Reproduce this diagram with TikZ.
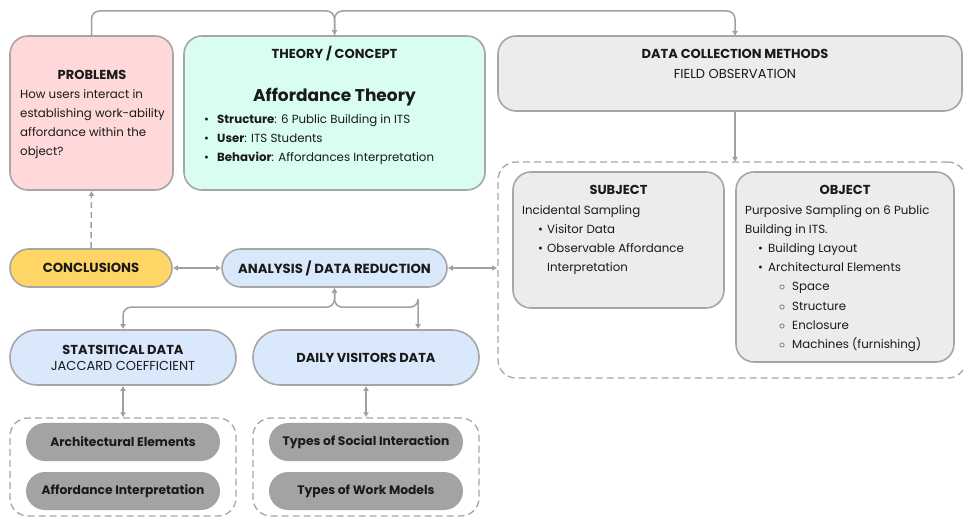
\documentclass[tikz,border=0pt]{standalone}
\usepackage{fontspec}
\setmainfont{Poppins}
\usetikzlibrary{arrows.meta,calc}
\definecolor{lineg}{HTML}{A6A6A6}
\definecolor{arrg}{HTML}{A0A0A0}
\definecolor{pinkf}{HTML}{FFD9D9}
\definecolor{cyanf}{HTML}{D9FCF3}
\definecolor{grayf}{HTML}{ECECEC}
\definecolor{yellf}{HTML}{FFD666}
\definecolor{bluef}{HTML}{DAE8FC}
\definecolor{pillf}{HTML}{A3A3A3}
\definecolor{txt}{HTML}{1A1A1A}
\tikzset{
  box/.style={draw=lineg, line width=1.6pt, rounded corners=18pt, inner sep=0pt},
  pill/.style={box, rounded corners=19pt, font=\fontsize{13.2}{15}\selectfont\bfseries},
  dbox/.style={draw=lineg, line width=1.3pt, dash pattern=on 7pt off 4pt, rounded corners=18pt, inner sep=0pt},
  gpill/.style={fill=pillf, rounded corners=19pt, minimum width=194, minimum height=38, font=\fontsize{12.3}{14}\selectfont\bfseries},
  arr/.style={draw=arrg, line width=1.5pt, -{Latex[length=5pt,width=6pt]}},
  darr/.style={draw=arrg, line width=1.5pt, {Latex[length=5pt,width=6pt]}-{Latex[length=5pt,width=6pt]}},
  ttl/.style={font=\fontsize{13}{15}\selectfont\bfseries, inner sep=0pt},
  body/.style={font=\fontsize{11.8}{19.2}\selectfont, align=left, inner sep=0pt, anchor=north west},
}
\begin{document}
\begin{tikzpicture}[x=1pt,y=-1pt, text=txt]
\useasboundingbox (0,0) rectangle (964,518);
% boxes
\node[box, fill=pinkf, minimum width=163, minimum height=154] (prob) at (91.5,113) {};
\node[box, fill=cyanf, minimum width=301, minimum height=154] (theory) at (334.5,113) {};
\node[box, fill=grayf, minimum width=464, minimum height=75] (dc) at (730,73.5) {};
\node[dbox, minimum width=468, minimum height=216] (big) at (732,270) {};
\node[box, fill=grayf, minimum width=211, minimum height=136] (subj) at (618.5,240) {};
\node[box, fill=grayf, minimum width=218, minimum height=190] (obj) at (845,267) {};
\node[pill, fill=yellf, minimum width=162, minimum height=38] (concl) at (91,268) {CONCLUSIONS};
\node[pill, fill=bluef, minimum width=225, minimum height=38] (anal) at (334.5,268) {ANALYSIS / DATA REDUCTION};
\node[box, fill=bluef, rounded corners=27pt, minimum width=226, minimum height=55, align=center, font=\fontsize{13}{16}\selectfont] (stat) at (123,357.5) {\textbf{STATSITICAL DATA}\\JACCARD COEFFICIENT};
\node[box, fill=bluef, rounded corners=27pt, minimum width=226, minimum height=55, font=\fontsize{13}{16}\selectfont\bfseries] (daily) at (366,357.5) {DAILY VISITORS DATA};
\node[dbox, minimum width=226, minimum height=98] (d1) at (123,467) {};
\node[dbox, minimum width=226, minimum height=98] (d2) at (366,467) {};
\node[gpill] (p1) at (123,442) {Architectural Elements};
\node[gpill] (p2) at (123,491) {Affordance Interpretation};
\node[gpill] (p3) at (366,442) {Types of Social Interaction};
\node[gpill] (p4) at (366,491) {Types of Work Models};
% texts
\node[ttl] (probt) at (92,75) {PROBLEMS};
\node[body] (probb) at (20,89) {How users interact in\\establishing work-ability\\affordance within the\\object?};
\node[ttl] (theot) at (334.5,54) {THEORY / CONCEPT};
\node[inner sep=0pt, font=\fontsize{17}{20}\selectfont\bfseries] (theoa) at (334.5,97) {Affordance Theory};
\node[body] (theob) at (204,114) {\makebox[13pt][l]{•}\textbf{Structure}: 6 Public Building in ITS\\\makebox[13pt][l]{•}\textbf{User}: ITS Students\\\makebox[13pt][l]{•}\textbf{Behavior}: Affordances Interpretation};
\node[ttl] (dct) at (735,54) {DATA COLLECTION METHODS};
\node[inner sep=0pt, font=\fontsize{13}{15}\selectfont] (dcb) at (735,74) {FIELD OBSERVATION};
\node[ttl] (subt) at (618.5,190) {SUBJECT};
\node[body] (subb) at (522,205) {Incidental Sampling\\\hspace*{16pt}\makebox[9pt][l]{•}Visitor Data\\\hspace*{16pt}\makebox[9pt][l]{•}Observable Affordance\\\hspace*{25pt}Interpretation};
\node[ttl] (objt) at (845,190) {OBJECT};
\node[body] (objb) at (745,205) {Purposive Sampling on 6 Public\\Building in ITS.\\\hspace*{13pt}\makebox[10pt][l]{•}Building Layout\\\hspace*{13pt}\makebox[10pt][l]{•}Architectural Elements\\\hspace*{34pt}\makebox[13pt][l]{$\circ$}Space\\\hspace*{34pt}\makebox[13pt][l]{$\circ$}Structure\\\hspace*{34pt}\makebox[13pt][l]{$\circ$}Enclosure\\\hspace*{34pt}\makebox[13pt][l]{$\circ$}Machines (furnishing)};
% connectors
\coordinate (jn) at (334.5,11);
\coordinate (dcin) at (735,36);
\coordinate (dcout) at (735,111);
\coordinate (bigin) at (735,162);
\draw[arr, rounded corners=8pt] (prob.north) |- (jn) -- (theory.north);
\draw[arr, rounded corners=8pt] (theory.north) |- ($(dcin)+(0,-25)$) -- (dcin);
\draw[arr] (dcout) -- (bigin);
\draw[arr, dash pattern=on 6pt off 4pt] (concl.north) -- (prob.south);
\draw[darr] (concl.east) -- (anal.west);
\draw[darr] (anal.east) -- (anal.east -| big.west);
\draw[darr, rounded corners=8pt] (anal.south) |- ($(stat.north)+(0,-22)$) -- (stat.north);
\draw[darr, rounded corners=8pt] (anal.south) |- ($(daily.north)+(52,-22)$) -| ($(daily.north)+(52,0)$);
\draw[darr] (stat.south) -- (d1.north);
\draw[darr] (daily.south) -- (d2.north);
\end{tikzpicture}
\end{document}
